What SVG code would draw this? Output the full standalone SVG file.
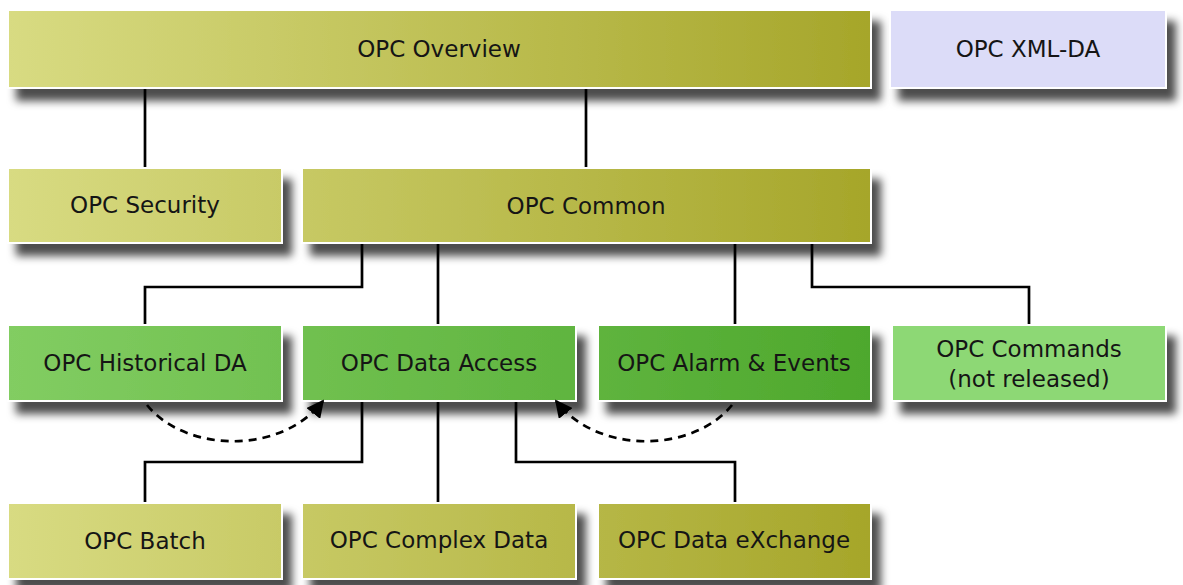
<svg xmlns="http://www.w3.org/2000/svg" width="1183" height="585" viewBox="0 0 1183 585">
  <defs>
    <linearGradient id="olive" gradientUnits="userSpaceOnUse" x1="8" y1="0" x2="870" y2="0">
      <stop offset="0" stop-color="#d8db82"/>
      <stop offset="1" stop-color="#a6a62a"/>
    </linearGradient>
    <linearGradient id="green" gradientUnits="userSpaceOnUse" x1="8" y1="0" x2="870" y2="0">
      <stop offset="0" stop-color="#82cd62"/>
      <stop offset="1" stop-color="#4ea82d"/>
    </linearGradient>
    <filter id="shadow" x="-10%" y="-20%" width="130%" height="160%">
      <feGaussianBlur in="SourceAlpha" stdDeviation="4"/>
      <feOffset dx="9" dy="12" result="blur"/>
      <feFlood flood-color="#000" flood-opacity="0.7"/>
      <feComposite in2="blur" operator="in"/>
      <feMerge>
        <feMergeNode/>
        <feMergeNode in="SourceGraphic"/>
      </feMerge>
    </filter>
    <marker id="arrow" viewBox="0 0 10 10" refX="9" refY="5" markerWidth="6.5" markerHeight="6.5" orient="auto" markerUnits="strokeWidth">
      <path d="M0,0 L10,5 L0,10 z" fill="#000"/>
    </marker>
  </defs>
  <style>
    .box { stroke: #fff; stroke-width: 2; filter: url(#shadow); }
    .olive { fill: url(#olive); }
    .green { fill: url(#green); }
    .light { fill: #8dd874; }
    .xml { fill: #dcdcf8; }
    text { font-family: "DejaVu Sans", Verdana, sans-serif; font-size: 23px; fill: #151515; text-anchor: middle; dominant-baseline: central; }
    .link { fill: none; stroke: #000; stroke-width: 2.7; }
    .dep { fill: none; stroke: #000; stroke-width: 2.7; stroke-dasharray: 8 6; marker-end: url(#arrow); }
  </style>

  <!-- hierarchy links -->
  <g id="connectors">
    <path class="link" d="M145,88 V168"/>
    <path class="link" d="M586,88 V168"/>
    <path class="link" d="M362,243 V287 H145 V325"/>
    <path class="link" d="M438,243 V325"/>
    <path class="link" d="M735,243 V325"/>
    <path class="link" d="M812,243 V287 H1029 V325"/>
    <path class="link" d="M362,401 V462 H145 V503"/>
    <path class="link" d="M438,401 V503"/>
    <path class="link" d="M516,401 V462 H735 V503"/>
  </g>

  <g id="overview">
    <rect class="box olive" x="8" y="10" width="863" height="78"/>
    <text x="439" y="49">OPC Overview</text>
  </g>
  <g id="xml-da">
    <rect class="box xml" x="890" y="10" width="276" height="78"/>
    <text x="1028" y="49">OPC XML-DA</text>
  </g>
  <g id="security">
    <rect class="box olive" x="8" y="168" width="274" height="75"/>
    <text x="145" y="205">OPC Security</text>
  </g>
  <g id="common">
    <rect class="box olive" x="302" y="168" width="569" height="75"/>
    <text x="586" y="206">OPC Common</text>
  </g>
  <g id="historical-da">
    <rect class="box green" x="8" y="325" width="274" height="76"/>
    <text x="145" y="363">OPC Historical DA</text>
  </g>
  <g id="data-access">
    <rect class="box green" x="302" y="325" width="274" height="76"/>
    <text x="439" y="363">OPC Data Access</text>
  </g>
  <g id="alarm-events">
    <rect class="box green" x="598" y="325" width="273" height="76"/>
    <text x="734" y="363">OPC Alarm &amp; Events</text>
  </g>
  <g id="commands">
    <rect class="box light" x="892" y="325" width="274" height="76"/>
    <text x="1029" y="349">OPC Commands</text>
    <text x="1029" y="379">(not released)</text>
  </g>
  <g id="batch">
    <rect class="box olive" x="8" y="503" width="274" height="76"/>
    <text x="145" y="541">OPC Batch</text>
  </g>
  <g id="complex-data">
    <rect class="box olive" x="302" y="503" width="274" height="76"/>
    <text x="439" y="540">OPC Complex Data</text>
  </g>
  <g id="data-exchange">
    <rect class="box olive" x="598" y="503" width="273" height="76"/>
    <text x="734" y="540">OPC Data eXchange</text>
  </g>

  <!-- usage dependencies -->
  <g id="dependencies">
    <path class="dep" d="M147,405 C185,452 280,456 323,401"/>
    <path class="dep" d="M732,405 C694,452 599,456 556,401"/>
  </g>
</svg>
